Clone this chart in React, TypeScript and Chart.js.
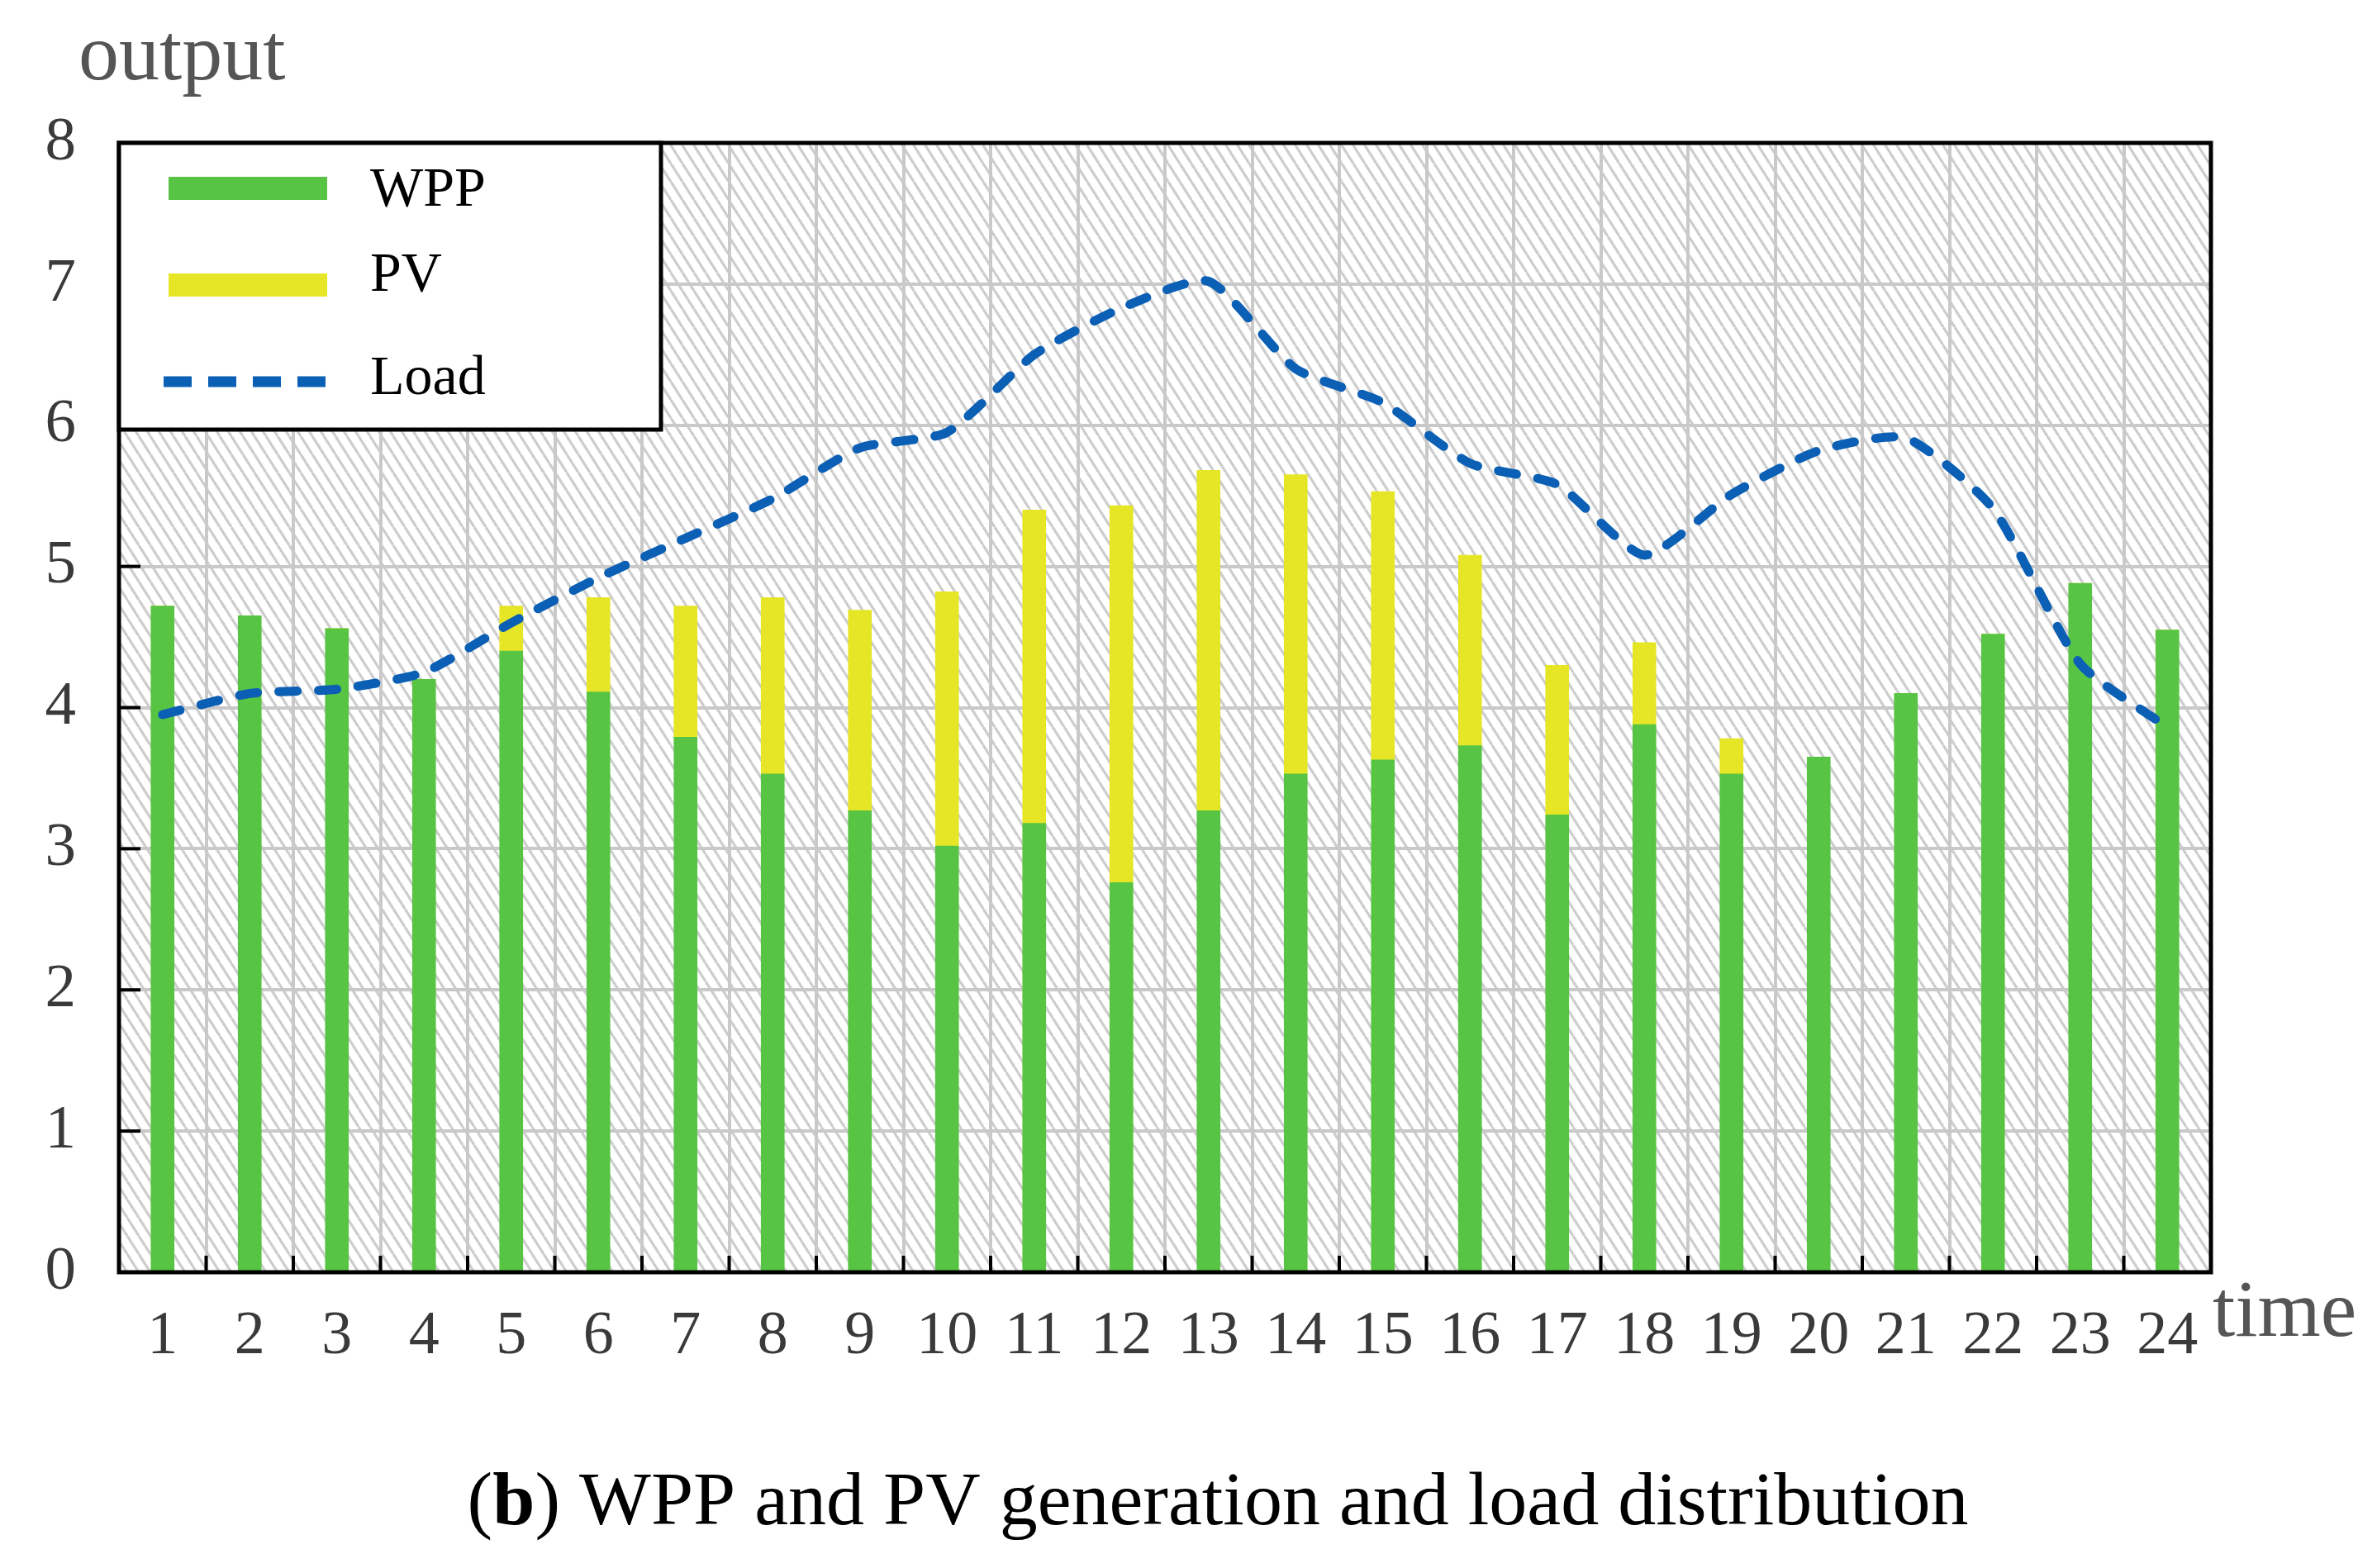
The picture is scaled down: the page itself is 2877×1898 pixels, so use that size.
import { useEffect, useRef } from 'react';
import { Chart, registerables } from 'chart.js';

Chart.register(...registerables);

const hours = ['1', '2', '3', '4', '5', '6', '7', '8', '9', '10', '11', '12',
  '13', '14', '15', '16', '17', '18', '19', '20', '21', '22', '23', '24'];
const wpp = [4.72, 4.65, 4.56, 4.2, 4.4, 4.11, 3.79, 3.53, 3.27, 3.02, 3.18, 2.76,
  3.27, 3.53, 3.63, 3.73, 3.24, 3.88, 3.53, 3.65, 4.1, 4.52, 4.88, 4.55];
const pv = [0, 0, 0, 0, 0.32, 0.67, 0.93, 1.25, 1.42, 1.8, 2.22, 2.67,
  2.41, 2.12, 1.9, 1.35, 1.06, 0.58, 0.25, 0, 0, 0, 0, 0];
const load = [3.95, 4.1, 4.13, 4.25, 4.6, 4.92, 5.2, 5.48, 5.84, 5.95, 6.5, 6.83,
  7.02, 6.4, 6.16, 5.73, 5.58, 5.08, 5.51, 5.82, 5.91, 5.41, 4.31, 3.86];

const W = 2877;
const H = 1898;
const SERIF = '"Liberation Serif", "Times New Roman", serif';
const GREEN = '#58c443';
const YELLOW = '#e6e627';
const BLUE = '#0b5fb4';

function hatch(ctx: CanvasRenderingContext2D) {
  const tile = document.createElement('canvas');
  const w = 14;
  const h = 22;
  tile.width = w;
  tile.height = h;
  const t = tile.getContext('2d')!;
  t.fillStyle = '#ffffff';
  t.fillRect(0, 0, w, h);
  t.strokeStyle = '#cdcdcd';
  t.lineWidth = 3.2;
  for (const dx of [-w, 0, w]) {
    t.beginPath();
    t.moveTo(dx, 0);
    t.lineTo(dx + w, h);
    t.stroke();
  }
  return ctx.createPattern(tile, 'repeat');
}

const decor = {
  id: 'decor',
  beforeDraw(chart: any) {
    const { ctx, chartArea: a } = chart;
    ctx.save();
    const p = hatch(ctx);
    if (p) ctx.fillStyle = p;
    ctx.fillRect(a.left, a.top, a.right - a.left, a.bottom - a.top);
    ctx.restore();
  },
  afterDraw(chart: any) {
    const { ctx, chartArea: a, scales } = chart;
    const x = scales.x;
    const y = scales.y;
    ctx.save();

    // inward tick marks
    ctx.strokeStyle = '#000';
    ctx.lineWidth = 4;
    for (let i = 0; i < hours.length - 1; i++) {
      const px = (x.getPixelForValue(i) + x.getPixelForValue(i + 1)) / 2;
      ctx.beginPath();
      ctx.moveTo(px, a.bottom);
      ctx.lineTo(px, a.bottom - 20);
      ctx.stroke();
    }
    for (let v = 1; v < 8; v++) {
      const py = y.getPixelForValue(v);
      ctx.beginPath();
      ctx.moveTo(a.left, py);
      ctx.lineTo(a.left + 26, py);
      ctx.stroke();
    }

    // frame
    ctx.lineWidth = 5;
    ctx.strokeRect(a.left, a.top, a.right - a.left, a.bottom - a.top);

    // legend box
    const lx = a.left;
    const ly = a.top;
    ctx.fillStyle = '#fff';
    ctx.fillRect(lx, ly, 656, 347);
    ctx.strokeRect(lx, ly, 656, 347);
    const ds = chart.data.datasets;
    const rows = [
      { d: ds[1], sy: 228, ty: 231 },
      { d: ds[2], sy: 345, ty: 334 },
      { d: ds[0], sy: 462, ty: 459 },
    ];
    ctx.font = `68px ${SERIF}`;
    ctx.textBaseline = 'middle';
    for (const r of rows) {
      if (r.d.type === 'line') {
        ctx.strokeStyle = r.d.borderColor;
        ctx.lineWidth = 13;
        ctx.setLineDash([34, 20]);
        ctx.beginPath();
        ctx.moveTo(198, r.sy);
        ctx.lineTo(396, r.sy);
        ctx.stroke();
        ctx.setLineDash([]);
      } else {
        ctx.fillStyle = r.d.backgroundColor;
        ctx.fillRect(204, r.sy - 14, 192, 28);
      }
      ctx.fillStyle = '#000';
      ctx.fillText(r.d.label, 448, r.ty);
    }

    // axis titles
    ctx.textBaseline = 'alphabetic';
    ctx.fillStyle = '#555';
    ctx.font = `98px ${SERIF}`;
    ctx.fillText('output', 95, 96);
    ctx.fillText('time', 2678, 1617);

    // caption
    ctx.fillStyle = '#000';
    const parts = [
      { t: '(', b: false },
      { t: 'b', b: true },
      { t: ') WPP and PV generation and load distribution', b: false },
    ];
    const fontFor = (b: boolean) => `${b ? 'bold ' : ''}92px ${SERIF}`;
    let total = 0;
    for (const s of parts) {
      ctx.font = fontFor(s.b);
      total += ctx.measureText(s.t).width;
    }
    let cx = 1474 - total / 2;
    for (const s of parts) {
      ctx.font = fontFor(s.b);
      ctx.fillText(s.t, cx, 1845);
      cx += ctx.measureText(s.t).width;
    }
    ctx.restore();
  },
};

function LoadChart() {
  const ref = useRef<HTMLCanvasElement>(null);
  const inst = useRef<Chart | null>(null);

  useEffect(() => {
    if (!ref.current) return;
    if (inst.current) inst.current.destroy();
    const ctx = ref.current.getContext('2d');
    if (!ctx) return;

    inst.current = new Chart(ctx, {
      type: 'bar',
      data: {
        labels: hours,
        datasets: [
          {
            type: 'line',
            label: 'Load',
            data: load,
            borderColor: BLUE,
            backgroundColor: BLUE,
            borderWidth: 11,
            borderDash: [22, 26],
            borderCapStyle: 'round',
            pointRadius: 0,
            tension: 0.2,
            fill: false,
            stack: 'load',
            order: 0,
          },
          {
            type: 'bar',
            label: 'WPP',
            data: wpp,
            backgroundColor: GREEN,
            barThickness: 28,
            stack: 'gen',
            order: 1,
          },
          {
            type: 'bar',
            label: 'PV',
            data: pv,
            backgroundColor: YELLOW,
            barThickness: 28,
            stack: 'gen',
            order: 1,
          },
        ] as any,
      },
      options: {
        responsive: false,
        animation: false,
        layout: { padding: { top: 173, right: W - 2676, left: 0, bottom: H - 1540 - 120 } },
        plugins: {
          legend: { display: false },
          tooltip: { enabled: false },
        },
        scales: {
          x: {
            stacked: true,
            offset: true,
            grid: { offset: true, color: '#c9c9c9', lineWidth: 4, drawTicks: false },
            border: { display: false },
            ticks: { color: '#3a3a3a', font: { family: SERIF, size: 74 }, padding: 34, maxRotation: 0, autoSkip: false },
            afterFit: (s: any) => { s.height = 120; },
          },
          y: {
            stacked: true,
            min: 0,
            max: 8,
            grid: { color: '#c9c9c9', lineWidth: 4, drawTicks: false },
            border: { display: false },
            ticks: { stepSize: 1, color: '#3a3a3a', font: { family: SERIF, size: 75 }, padding: 52 },
            afterFit: (s: any) => { s.width = 144; },
          },
        },
      },
      plugins: [decor],
    });

    return () => {
      if (inst.current) {
        inst.current.destroy();
        inst.current = null;
      }
    };
  }, []);

  return <canvas ref={ref} width={W} height={H} style={{ width: W, height: H, display: 'block' }} />;
}

export default function App() {
  return (
    <div style={{ position: 'fixed', left: 0, top: 0, width: W, height: H, background: '#fff' }}>
      <LoadChart />
    </div>
  );
}
